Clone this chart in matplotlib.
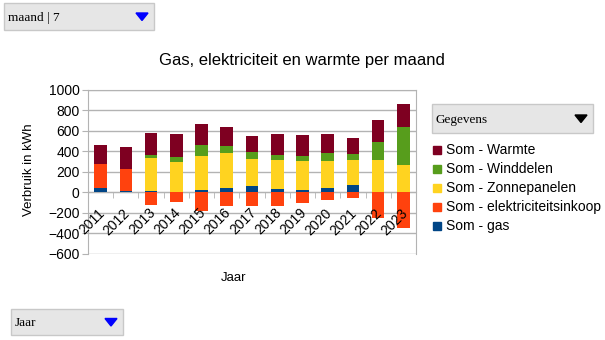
import numpy as np
import matplotlib
matplotlib.use('Agg')
import matplotlib.pyplot as plt
from matplotlib.patches import Rectangle, Polygon
from matplotlib.transforms import ScaledTranslation

plt.rcParams['font.family'] = ['Liberation Sans', 'DejaVu Sans']

# Data (kWh)
years = ['2011', '2012', '2013', '2014', '2015', '2016', '2017',
         '2018', '2019', '2020', '2021', '2022', '2023']
gas = [42, 13, 10, 0, 20, 39, 59, 29, 20, 39, 68, 0, 0]
elektriciteitsinkoop = [238, 218, -127, -91, -186, -137, -137, -130, -101, -75, -55, -254, -352]
zonnepanelen = [0, 0, 319, 290, 335, 339, 263, 287, 286, 267, 245, 313, 270]
winddelen = [0, 0, 36, 52, 104, 72, 66, 49, 46, 75, 58, 179, 368]
warmte = [182, 212, 215, 228, 205, 182, 162, 199, 202, 186, 153, 215, 219]

series = [
    ('Som - gas', gas, '#004586'),
    ('Som - elektriciteitsinkoop', elektriciteitsinkoop, '#ff420e'),
    ('Som - Zonnepanelen', zonnepanelen, '#ffd320'),
    ('Som - Winddelen', winddelen, '#579d1c'),
    ('Som - Warmte', warmte, '#7e0021'),
]

W, H = 605, 340
fig = plt.figure(figsize=(W / 100, H / 100), dpi=100)


def fx(x):
    return x / W


def fy(y):
    return 1 - y / H


ax = fig.add_axes([fx(88), fy(253.7), fx(416) - fx(88), fy(89.7) - fy(253.7)])

x = np.arange(len(years))
pos_bottom = np.zeros(len(years))
neg_bottom = np.zeros(len(years))
for name, vals, color in series:
    vals = np.array(vals, dtype=float)
    bottom = np.where(vals >= 0, pos_bottom, neg_bottom)
    ax.bar(x, vals, 0.5, bottom=bottom, color=color, label=name, zorder=2)
    pos_bottom += np.clip(vals, 0, None)
    neg_bottom += np.clip(vals, None, 0)

ax.set_xlim(-0.5, len(years) - 0.5)
ax.set_ylim(-600, 1000)
ax.set_yticks(np.arange(-600, 1001, 200))
ax.yaxis.grid(True, color='#b3b3b3', linewidth=1)
ax.yaxis.set_zorder(0.5)
ax.xaxis.set_zorder(4)
for s in ['top', 'right', 'left']:
    ax.spines[s].set_color('#b3b3b3')
ax.spines['bottom'].set_position(('data', 0))
ax.spines['bottom'].set_color('#b3b3b3')
ax.spines['bottom'].set_zorder(1)
ax.tick_params(axis='y', length=4, color='#b3b3b3', labelsize=10, pad=2)

ax.set_xticks(x)
ax.set_xticklabels(years, rotation=45, ha='right', va='top', rotation_mode='anchor', fontsize=10)
ax.set_xticks(np.arange(-0.5, len(years), 1), minor=True)
ax.tick_params(axis='x', which='major', length=0, pad=4)
ax.tick_params(axis='x', which='minor', length=4, color='#b3b3b3')
for lbl in ax.get_xticklabels():
    lbl.set_transform(lbl.get_transform() + ScaledTranslation(-0.03, -0.08, fig.dpi_scale_trans))

fig.text(fx(302), fy(61), 'Gas, elektriciteit en warmte per maand', ha='center', va='center', fontsize=12)
fig.text(fx(29), fy(170), 'Verbruik in kWh', rotation=90, ha='center', va='center', fontsize=9.5)
fig.text(fx(234), fy(278), 'Jaar', ha='center', va='center', fontsize=9.5)

# legend
for i, (name, _, color) in enumerate(reversed(series)):
    yy = 150 + i * 19
    fig.patches.append(Rectangle((fx(433), fy(yy + 4)), fx(8), 8 / H, color=color,
                                 transform=fig.transFigure))
    fig.text(fx(446), fy(yy), name, ha='left', va='center', fontsize=10)


# pivot table field buttons
def button(x0, y0, x1, y1, text, tri_color):
    fig.patches.append(Rectangle((fx(x0), fy(y1)), fx(x1 - x0), (y1 - y0) / H,
                                 facecolor='#e6e6e6', edgecolor='#c8c8c8', linewidth=1,
                                 transform=fig.transFigure))
    fig.text(fx(x0 + 4), fy((y0 + y1) / 2 + 1), text, ha='left', va='center', fontsize=9.5,
             family='Liberation Serif')
    cx, cy = x1 - 12, (y0 + y1) / 2
    tri = Polygon([(fx(cx - 6), fy(cy - 3.5)), (fx(cx + 6), fy(cy - 3.5)), (fx(cx), fy(cy + 4))],
                  closed=True, color=tri_color, transform=fig.transFigure)
    fig.patches.append(tri)


button(4, 3, 154, 30, 'maand | 7', '#0000ff')
button(432, 104, 593, 133, 'Gegevens', '#000000')
button(11, 309, 123, 335, 'Jaar', '#0000ff')

fig.savefig('out.png', dpi=100)
